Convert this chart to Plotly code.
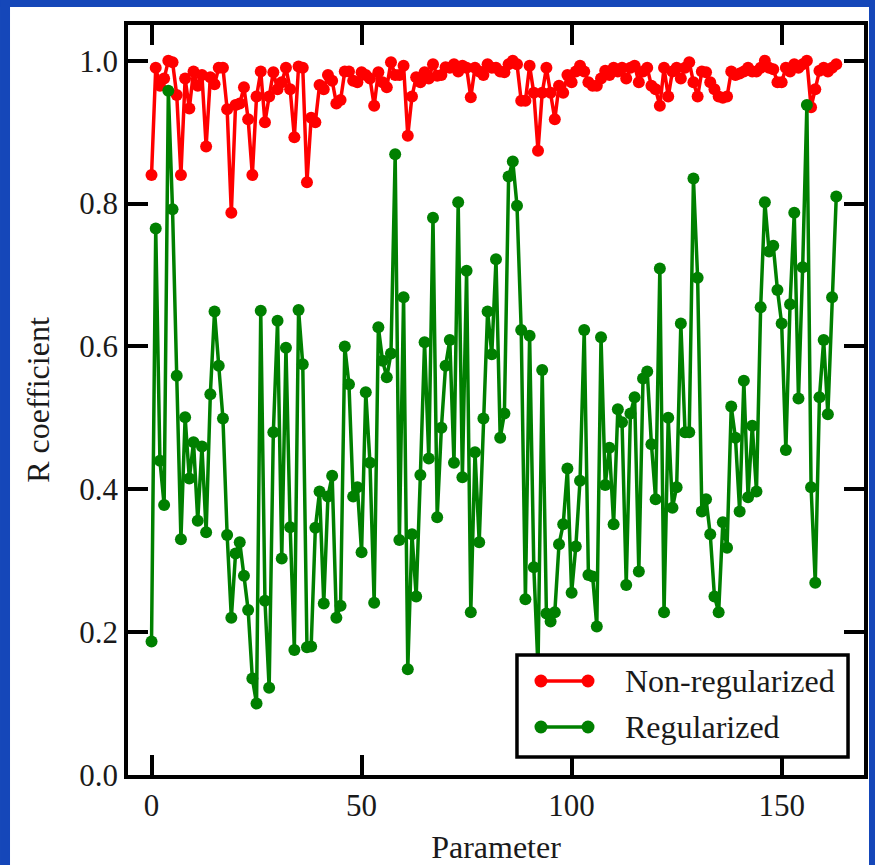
import plotly.graph_objects as go

# Parameter index and correlation coefficients for the two fits
parameter = list(range(164))

non_regularized = [
    0.84, 0.99, 0.965, 0.975, 1.0, 0.998, 0.952, 0.84, 0.975, 0.933,
    0.985, 0.965, 0.98, 0.88, 0.977, 0.967, 0.99, 0.99, 0.932, 0.787,
    0.938, 0.94, 0.963, 0.918, 0.84, 0.95, 0.985, 0.914, 0.95, 0.984,
    0.96, 0.97, 0.99, 0.96, 0.893, 0.992, 0.99, 0.83, 0.92, 0.914,
    0.966, 0.96, 0.98, 0.972, 0.94, 0.945, 0.985, 0.985, 0.972, 0.97,
    0.984, 0.98, 0.975, 0.937, 0.984, 0.97, 0.963, 0.998, 0.98, 0.98,
    0.993, 0.895, 0.95, 0.977, 0.97, 0.984, 0.975, 0.995, 0.979, 0.98,
    0.991, 0.99, 0.995, 0.985, 0.993, 0.99, 0.949, 0.99, 0.985, 0.98,
    0.995, 0.99, 0.99, 0.985, 0.984, 0.995, 1.0, 0.995, 0.944, 0.944,
    0.993, 0.955, 0.874, 0.955, 0.99, 0.955, 0.918, 0.965, 0.955, 0.98,
    0.97, 0.985, 0.993, 0.985, 0.97, 0.965, 0.965, 0.975, 0.986, 0.98,
    0.99, 0.985, 0.99, 0.975, 0.99, 0.993, 0.97, 0.985, 0.99, 0.965,
    0.96, 0.937, 0.99, 0.95, 0.985, 0.99, 0.975, 0.99, 0.998, 0.97,
    0.95, 0.985, 0.984, 0.97, 0.96, 0.95, 0.948, 0.95, 0.985, 0.98,
    0.982, 0.985, 0.99, 0.985, 0.985, 0.99, 1.0, 0.99, 0.988, 0.97,
    0.97, 0.99, 0.985, 0.995, 0.99, 0.995, 1.0, 0.935, 0.96, 0.986,
    0.99, 0.985, 0.99, 0.995,
]

regularized = [
    0.187, 0.765, 0.44, 0.378, 0.958, 0.792, 0.559, 0.33, 0.501, 0.415,
    0.466, 0.356, 0.46, 0.34, 0.533, 0.649, 0.573, 0.499, 0.336, 0.22,
    0.31, 0.326, 0.279, 0.231, 0.135, 0.1, 0.65, 0.244, 0.122, 0.48,
    0.636, 0.303, 0.598, 0.347, 0.175, 0.651, 0.575, 0.179, 0.18, 0.346,
    0.397, 0.24, 0.39, 0.419, 0.22, 0.237, 0.6, 0.547, 0.39, 0.403,
    0.312, 0.536, 0.437, 0.241, 0.627, 0.58, 0.557, 0.59, 0.869, 0.329,
    0.669, 0.148, 0.337, 0.25, 0.42, 0.606, 0.443, 0.78, 0.361, 0.486,
    0.573, 0.609, 0.437, 0.802, 0.417, 0.706, 0.228, 0.452, 0.326, 0.499,
    0.649, 0.589, 0.722, 0.472, 0.506, 0.838, 0.859, 0.797, 0.623, 0.246,
    0.615, 0.291, 0.15, 0.567, 0.226, 0.215, 0.228, 0.323, 0.351, 0.429,
    0.255, 0.32, 0.412, 0.623, 0.28, 0.278, 0.208, 0.613, 0.406, 0.458,
    0.351, 0.512, 0.494, 0.266, 0.506, 0.529, 0.285, 0.555, 0.565, 0.463,
    0.386, 0.709, 0.228, 0.5, 0.374, 0.403, 0.632, 0.48, 0.48, 0.835,
    0.696, 0.369, 0.386, 0.337, 0.25, 0.228, 0.354, 0.318, 0.516, 0.472,
    0.369, 0.552, 0.389, 0.489, 0.397, 0.655, 0.802, 0.733, 0.741, 0.679,
    0.632, 0.455, 0.659, 0.787, 0.527, 0.711, 0.938, 0.403, 0.269, 0.529,
    0.609, 0.505, 0.669, 0.81,
]

series_names = ["Non-regularized", "Regularized"]
series_colors = ["#FF0000", "#008000"]
x_ticks = [0, 50, 100, 150]
y_ticks = [0.0, 0.2, 0.4, 0.6, 0.8, 1.0]

SERIF = "Liberation Serif, Times New Roman, serif"
TEXT = "#1a1a1a"
FRAME_BLUE = "#1547B9"

fig = go.Figure()
for name, values, color in zip(series_names, [non_regularized, regularized], series_colors):
    fig.add_trace(go.Scatter(
        x=parameter, y=values, name=name,
        mode="lines+markers",
        line=dict(color=color, width=3.5),
        marker=dict(color=color, size=12, symbol="circle"),
        showlegend=False,
    ))

axis_common = dict(
    showline=True, linecolor="black", linewidth=3.5, mirror="ticks",
    ticks="inside", ticklen=20, tickwidth=3.5, tickcolor="black",
    showgrid=False, zeroline=False, automargin=False,
    tickfont=dict(family=SERIF, size=31, color=TEXT),
)

fig.update_xaxes(
    range=[-5.6, 169.6], tickvals=x_ticks,
    title=dict(text="Parameter", font=dict(family=SERIF, size=32, color=TEXT), standoff=22),
    **axis_common,
)
fig.update_yaxes(
    range=[0, 1.05], tickvals=y_ticks, tickformat=".1f",
    title=dict(text="R coefficient", font=dict(family=SERIF, size=32, color=TEXT), standoff=21),
    **axis_common,
)

# Blue border strips around the page
border = [
    dict(x0=-0.1739, x1=-0.1603, y0=-0.125, y1=1.0334),
    dict(x0=-0.1739, x1=1.016, y0=1.024, y1=1.0334),
    dict(x0=1.0068, x1=1.016, y0=-0.125, y1=1.0334),
]
for b in border:
    fig.add_shape(type="rect", xref="paper", yref="paper",
                  line=dict(width=0), fillcolor=FRAME_BLUE, layer="above", **b)

# Legend box: sample line with a dot at each end, then the series name
box = dict(x0=0.5285, x1=0.9783, y0=0.024, y1=0.16)
fig.add_shape(type="rect", xref="paper", yref="paper", layer="above",
              fillcolor="white", line=dict(color="black", width=3.5), **box)
row_y = [0.1253, 0.064]
sample_x = [0.5611, 0.625]
for name, color, ry in zip(series_names, series_colors, row_y):
    fig.add_shape(type="line", xref="paper", yref="paper", layer="above",
                  x0=sample_x[0], x1=sample_x[1], y0=ry, y1=ry,
                  line=dict(color=color, width=3.5))
    for sx in sample_x:
        fig.add_shape(type="circle", xref="paper", yref="paper", layer="above",
                      xsizemode="pixel", ysizemode="pixel",
                      xanchor=sx, yanchor=ry, x0=-6.5, x1=6.5, y0=-6.5, y1=6.5,
                      fillcolor=color, line=dict(width=0))
    fig.add_annotation(xref="paper", yref="paper", x=0.6726, y=ry,
                       xanchor="left", yanchor="middle", showarrow=False,
                       text=name, font=dict(family=SERIF, size=32, color=TEXT))

fig.update_layout(
    width=875, height=865,
    margin=dict(l=128, r=11, t=25, b=90),
    paper_bgcolor="white", plot_bgcolor="white",
    showlegend=False,
)

fig.write_html("out.html")
